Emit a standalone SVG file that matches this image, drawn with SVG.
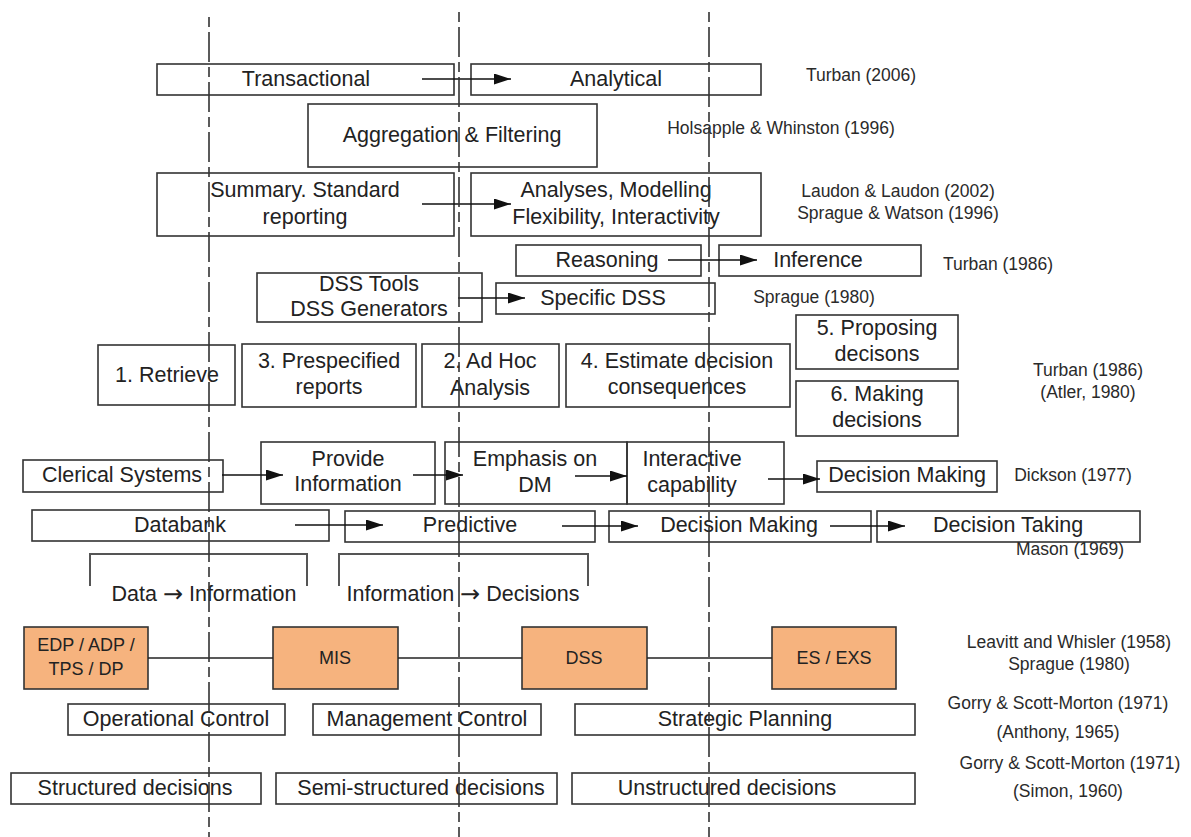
<svg xmlns="http://www.w3.org/2000/svg" width="1191" height="837" viewBox="0 0 1191 837">
<style>
.box{fill:none;stroke:#333;stroke-width:1.6}
.org{fill:#F6B37E;stroke:#333;stroke-width:1.6}
text{font-family:"Liberation Sans",Arial,sans-serif;font-size:21.5px;fill:#222;text-anchor:middle;dominant-baseline:central}
.c{font-size:17.5px;fill:#2a2a2a}
.o{font-size:18px}
.ar{font-family:"DejaVu Sans",sans-serif;font-size:24px}
.guide{stroke:#333;stroke-width:1.6;stroke-dasharray:10 5 30 5;fill:none}
.arr{stroke:#111;stroke-width:1.4;fill:none;marker-end:url(#ah)}
.ln{stroke:#222;stroke-width:1.4;fill:none}
.br{stroke:#555;stroke-width:2;fill:none}
</style>
<defs>
<marker id="ah" markerUnits="userSpaceOnUse" markerWidth="18" markerHeight="12" refX="17" refY="5.5" orient="auto">
<path d="M0,0 L17,5.5 L0,11 z" fill="#111"/>
</marker>
</defs>
<rect width="1191" height="837" fill="#fff"/>

<g id="transactional"><rect class="box" x="157" y="64" width="297" height="31"/><text x="306" y="79">Transactional</text></g>
<g id="analytical"><rect class="box" x="471" y="64" width="290" height="31"/><text x="616" y="79">Analytical</text></g>
<g id="aggregation"><rect class="box" x="308" y="104" width="289" height="63"/><text x="452" y="135">Aggregation &amp; Filtering</text></g>
<g id="summary"><rect class="box" x="157" y="173" width="297" height="63"/><text x="305" y="190">Summary. Standard</text><text x="305" y="217">reporting</text></g>
<g id="analyses"><rect class="box" x="471" y="173" width="290" height="63"/><text x="616" y="190">Analyses, Modelling</text><text x="616" y="217">Flexibility, Interactivity</text></g>
<g id="reasoning"><rect class="box" x="516" y="245" width="185" height="31"/><text x="607" y="260">Reasoning</text></g>
<g id="inference"><rect class="box" x="719" y="245" width="202" height="31"/><text x="818" y="260">Inference</text></g>
<g id="dsstools"><rect class="box" x="257" y="273" width="225" height="49"/><text x="369" y="284">DSS Tools</text><text x="369" y="309">DSS Generators</text></g>
<g id="specificdss"><rect class="box" x="496" y="283" width="219" height="31"/><text x="603" y="298">Specific DSS</text></g>
<g id="retrieve"><rect class="box" x="98" y="345" width="137" height="60"/><text x="167" y="375">1. Retrieve</text></g>
<g id="prespecified"><rect class="box" x="242" y="344" width="174" height="63"/><text x="329" y="361">3. Prespecified</text><text x="329" y="387">reports</text></g>
<g id="adhoc"><rect class="box" x="422" y="344" width="137" height="63"/><text x="490" y="361">2. Ad Hoc</text><text x="490" y="388">Analysis</text></g>
<g id="estimate"><rect class="box" x="566" y="344" width="224" height="63"/><text x="677" y="361">4. Estimate decision</text><text x="677" y="387">consequences</text></g>
<g id="proposing"><rect class="box" x="796" y="315" width="162" height="54"/><text x="877" y="328">5. Proposing</text><text x="877" y="354">decisons</text></g>
<g id="making"><rect class="box" x="796" y="381" width="162" height="55"/><text x="877" y="394">6. Making</text><text x="877" y="420">decisions</text></g>
<g id="clerical"><rect class="box" x="23" y="460" width="200" height="32"/><text x="122" y="475">Clerical Systems</text></g>
<g id="provide"><rect class="box" x="261" y="442" width="174" height="62"/><text x="348" y="459">Provide</text><text x="348" y="484">Information</text></g>
<g id="emphasis"><rect class="box" x="445" y="442" width="182" height="62"/><text x="535" y="459">Emphasis on</text><text x="535" y="485">DM</text></g>
<g id="interactive"><rect class="box" x="627" y="442" width="157" height="62"/><text x="692" y="459">Interactive</text><text x="692" y="485">capability</text></g>
<g id="dm-dickson"><rect class="box" x="817" y="461" width="180" height="31"/><text x="907" y="475">Decision Making</text></g>
<g id="databank"><rect class="box" x="32" y="510" width="297" height="31"/><text x="180" y="525">Databank</text></g>
<g id="predictive"><rect class="box" x="345" y="511" width="250" height="31"/><text x="470" y="525">Predictive</text></g>
<g id="dm-mason"><rect class="box" x="609" y="511" width="262" height="31"/><text x="739" y="525">Decision Making</text></g>
<g id="decisiontaking"><rect class="box" x="877" y="511" width="263" height="31"/><text x="1008" y="525">Decision Taking</text></g>
<g id="bracket1"><path class="br" d="M90,586 V554 H307 V586"/><text x="204" y="594">Data <tspan class="ar">→</tspan> Information</text></g>
<g id="bracket2"><path class="br" d="M339,586 V554 H588 V586"/><text x="463" y="594">Information <tspan class="ar">→</tspan> Decisions</text></g>
<g id="edp"><rect class="org" x="24" y="627" width="124" height="62"/><text class="o" x="86" y="645">EDP / ADP /</text><text class="o" x="86" y="669">TPS / DP</text></g>
<g id="mis"><rect class="org" x="273" y="627" width="125" height="62"/><text class="o" x="335" y="658">MIS</text></g>
<g id="dss"><rect class="org" x="522" y="627" width="125" height="62"/><text class="o" x="584" y="658">DSS</text></g>
<g id="es"><rect class="org" x="772" y="627" width="124" height="62"/><text class="o" x="834" y="658">ES / EXS</text></g>
<g id="operational"><rect class="box" x="68" y="704" width="217" height="31"/><text x="176" y="719">Operational Control</text></g>
<g id="management"><rect class="box" x="313" y="704" width="228" height="31"/><text x="427" y="719">Management Control</text></g>
<g id="strategic"><rect class="box" x="575" y="704" width="340" height="31"/><text x="745" y="719">Strategic Planning</text></g>
<g id="structured"><rect class="box" x="11" y="773" width="250" height="31"/><text x="135" y="788">Structured decisions</text></g>
<g id="semistructured"><rect class="box" x="276" y="773" width="281" height="31"/><text x="421" y="788">Semi-structured decisions</text></g>
<g id="unstructured"><rect class="box" x="572" y="773" width="343" height="31"/><text x="727" y="788">Unstructured decisions</text></g>

<g id="citations">
<text class="c" x="861" y="75">Turban (2006)</text>
<text class="c" x="781" y="128">Holsapple &amp; Whinston (1996)</text>
<text class="c" x="898" y="191">Laudon &amp; Laudon (2002)</text>
<text class="c" x="898" y="213">Sprague &amp; Watson (1996)</text>
<text class="c" x="998" y="264">Turban (1986)</text>
<text class="c" x="814" y="297">Sprague (1980)</text>
<text class="c" x="1088" y="370">Turban (1986)</text>
<text class="c" x="1088" y="392">(Atler, 1980)</text>
<text class="c" x="1073" y="475">Dickson (1977)</text>
<text class="c" x="1070" y="549">Mason (1969)</text>
<text class="c" x="1069" y="642">Leavitt and Whisler (1958)</text>
<text class="c" x="1069" y="664">Sprague (1980)</text>
<text class="c" x="1058" y="703">Gorry &amp; Scott-Morton (1971)</text>
<text class="c" x="1058" y="732">(Anthony, 1965)</text>
<text class="c" x="1070" y="763">Gorry &amp; Scott-Morton (1971)</text>
<text class="c" x="1068" y="791">(Simon, 1960)</text>
</g>

<g id="connectors">
<line class="arr" x1="422" y1="79" x2="511" y2="79"/>
<line class="arr" x1="422" y1="204" x2="511" y2="204"/>
<line class="arr" x1="668" y1="260" x2="757" y2="260"/>
<line class="arr" x1="458" y1="298" x2="525" y2="298"/>
<line class="arr" x1="222" y1="475" x2="283" y2="475"/>
<line class="arr" x1="413" y1="475" x2="463" y2="475"/>
<line class="arr" x1="575" y1="476" x2="627" y2="476"/>
<line class="arr" x1="768" y1="479" x2="820" y2="479"/>
<line class="arr" x1="295" y1="525" x2="383" y2="525"/>
<line class="arr" x1="562" y1="526" x2="638" y2="526"/>
<line class="arr" x1="830" y1="526" x2="905" y2="526"/>
<line class="ln" x1="148" y1="658" x2="273" y2="658"/>
<line class="ln" x1="398" y1="658" x2="522" y2="658"/>
<line class="ln" x1="647" y1="658" x2="772" y2="658"/>
</g>

<g id="guides">
<line class="guide" x1="209" y1="17" x2="209" y2="837"/>
<line class="guide" x1="459" y1="12" x2="459" y2="837"/>
<line class="guide" x1="709" y1="12" x2="709" y2="837"/>
</g>
</svg>
